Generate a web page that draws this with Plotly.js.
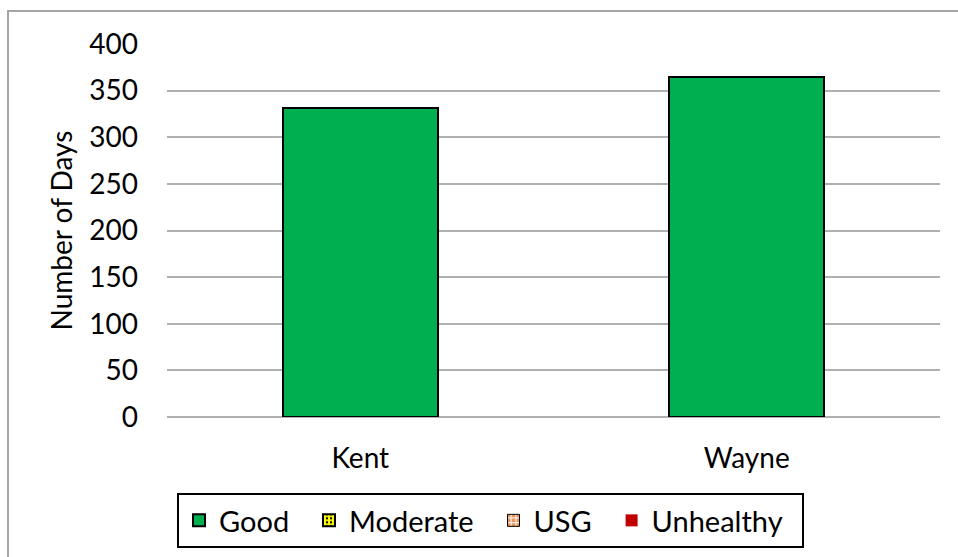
<!DOCTYPE html>
<html>
<head>
<meta charset="utf-8">
<script src="https://cdn.plot.ly/plotly-3.0.1.min.js"></script>
<style>
html,body{margin:0;padding:0;background:#fff;}
#chart{width:958px;height:557px;}
</style>
</head>
<body>
<div id="chart"></div>
<script>
const categories = ["Kent", "Wayne"];
const seriesNames = ["Good", "Moderate", "USG", "Unhealthy"];
const good = [331, 365];
const moderate = [0, 0];
const usg = [0, 0];
const unhealthy = [0, 0];
const yTicks = [0, 50, 100, 150, 200, 250, 300, 350, 400];

const FONT = "Lato, 'Open Sans', sans-serif";
const PAD = "  ";

const traces = [
  {type: "bar", name: seriesNames[0] + PAD, x: categories, y: good,
   marker: {color: "#00B050", line: {color: "#000000", width: 2}}},
  {type: "bar", name: seriesNames[1] + PAD, x: categories, y: moderate,
   marker: {color: "#FFFF00", line: {color: "#000000", width: 2},
            pattern: {shape: ".", fgcolor: "#000000", bgcolor: "#FFFF00", size: 5, solidity: 0.25}}},
  {type: "bar", name: seriesNames[2] + PAD, x: categories, y: usg,
   marker: {color: "#E8945A", line: {color: "#000000", width: 1},
            pattern: {shape: "+", fgcolor: "#FFFFFF", bgcolor: "#E8945A", size: 6, solidity: 0.4}}},
  {type: "bar", name: seriesNames[3] + PAD, x: categories, y: unhealthy,
   marker: {color: "#C00000", line: {color: "#C00000", width: 0}}}
];

const layout = {
  width: 958, height: 557,
  margin: {l: 167, r: 18, t: 44, b: 140, pad: 0},
  paper_bgcolor: "#ffffff", plot_bgcolor: "#ffffff",
  barmode: "stack",
  bargap: 0.6,
  font: {family: FONT, size: 28, color: "#000000"},
  showlegend: true,
  legend: {
    orientation: "h", xref: "container", yref: "container",
    x: 177 / 958, xanchor: "left", y: (557 - 493) / 557, yanchor: "top",
    bordercolor: "#000000", borderwidth: 2, bgcolor: "#ffffff",
    font: {family: FONT, size: 29, color: "#000000"},
    traceorder: "normal"
  },
  xaxis: {
    type: "category", showgrid: false, zeroline: false, showline: false,
    ticks: "", ticklabelstandoff: 22,
    tickfont: {family: FONT, size: 28, color: "#000000"}
  },
  yaxis: {
    range: [0, 400], tickvals: yTicks, ticktext: yTicks.map(String),
    showgrid: true, gridcolor: "#b0b0b0", gridwidth: 2,
    zeroline: true, zerolinecolor: "#b0b0b0", zerolinewidth: 2,
    showline: false, ticks: "", ticklabelstandoff: 28,
    automargin: "left",
    tickfont: {family: FONT, size: 28, color: "#000000"},
    title: {text: "Number of Days", font: {family: FONT, size: 28, color: "#000000"}, standoff: 8}
  },
  shapes: [{
    type: "rect", xref: "paper", yref: "paper",
    x0: (8 - 167) / 773, x1: (962 - 167) / 773,
    y0: (417 - 562) / 373, y1: (417 - 11) / 373,
    line: {color: "#a6a6a6", width: 2}, fillcolor: "rgba(0,0,0,0)", layer: "below"
  }]
};

Plotly.newPlot("chart", traces, layout, {displayModeBar: false, staticPlot: true});
</script>
</body>
</html>
